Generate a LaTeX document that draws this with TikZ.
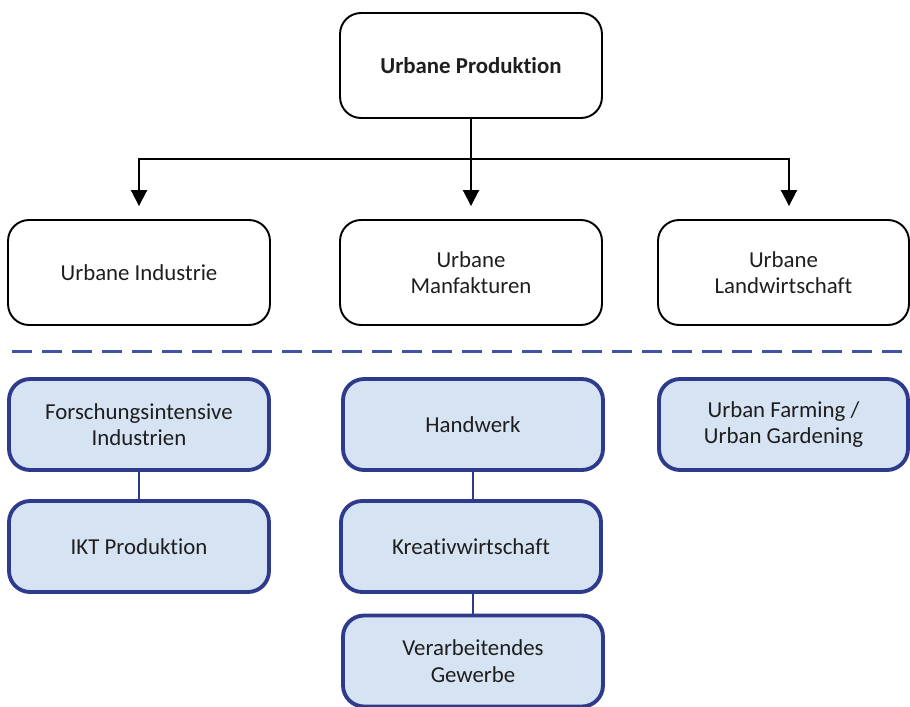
\documentclass[tikz,border=0pt]{standalone}
\usepackage{fontspec}
\setmainfont{Carlito}[Ligatures=NoCommon]
\usepackage{xcolor}
\definecolor{mnavy}{RGB}{46,58,140}
\definecolor{mdash}{RGB}{66,82,165}
\definecolor{mfill}{RGB}{214,227,243}
\definecolor{mtext}{RGB}{30,30,30}
\usepackage{tikz}
\usetikzlibrary{positioning}
\usetikzlibrary{arrows.meta}

\begin{document}
\begin{tikzpicture}[x=0.02cm, y=-0.02cm,
    box/.style={draw, line width=1.1pt, rounded corners=0.42cm, minimum width=5.24cm, minimum height=2.1cm, align=center, text=mtext, font=\fontsize{13}{15}\selectfont, inner sep=2pt},
    subbox/.style={box, draw=mnavy, fill=mfill, line width=2.2pt, minimum width=5.2cm, minimum height=1.82cm},
    arrow/.style={-{Triangle[width=0.32cm, length=0.32cm]}, line width=1.1pt, shorten >=0.26cm},
    link/.style={draw=mnavy, line width=1.1pt},
]
\useasboundingbox (0,0) rectangle (910,707);

\node[box, font=\fontsize{13}{15}\selectfont\bfseries] (prod) at (471,65.5) {Urbane Produktion};

\node[box] (industrie) at (139,272.5) {Urbane Industrie};
\node[box] (manufaktur) at (471,272.5) {Urbane\\Manfakturen};
\node[box, minimum width=5.02cm] (landwirt) at (783.5,272.5) {Urbane\\Landwirtschaft};

% horizontal bus below the top box
\coordinate (bus) at (471,159);

\draw[arrow] (prod) -- (manufaktur);
\draw[arrow] (bus) -| (industrie.north);
\draw[arrow] (bus) -| ([xshift=0.11cm]landwirt.north);

% separator
\coordinate (sep_left) at (12,351);
\coordinate (sep_right) at (905,351);
\draw[mdash, line width=1.7pt, dash pattern=on 0.4cm off 0.2cm] (sep_left) -- (sep_right);

\node[subbox] (forschung) at (139,424.5) {Forschungsintensive\\Industrien};
\node[subbox] (ikt) at (139,546.5) {IKT Produktion};
\node[subbox] (handwerk) at (473,424.5) {Handwerk};
\node[subbox] (kreativ) at (471,546.5) {Kreativwirtschaft};
\node[subbox] (verarb) at (473,661) {Verarbeitendes\\Gewerbe};
\node[subbox, minimum width=4.98cm] (farming) at (783.5,424.5) {Urban Farming /\\Urban Gardening};

\draw[link] (forschung) -- (ikt);
\draw[link] (handwerk.south) -- (handwerk.south |- kreativ.north);
\draw[link] (kreativ.south -| verarb.north) -- (verarb.north);

\end{tikzpicture}
\end{document}
